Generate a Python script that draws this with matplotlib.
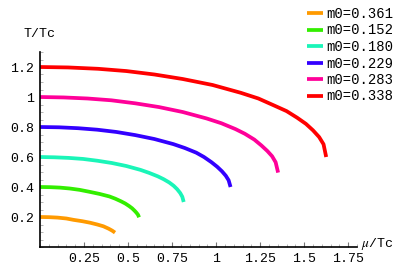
import matplotlib
matplotlib.use("Agg")
import matplotlib.pyplot as plt
from matplotlib.ticker import MultipleLocator, FixedLocator

plt.rcParams['mathtext.fontset'] = 'stix'

labels = ["m0=0.361", "m0=0.152", "m0=0.180", "m0=0.229", "m0=0.283", "m0=0.338"]
colors = ["#FF9A00", "#33EE00", "#1AF5B8", "#3300FF", "#FF0099", "#FF0000"]

mu_orange = [0, 0.05, 0.10, 0.15, 0.19, 0.24, 0.284, 0.325, 0.36, 0.39, 0.41, 0.426]
T_orange = [0.200, 0.199, 0.196, 0.190, 0.181, 0.172, 0.162, 0.150, 0.138, 0.122, 0.109, 0.096]

mu_green = [0, 0.056, 0.1125, 0.169, 0.225, 0.281, 0.3375, 0.394, 0.4275, 0.461,
            0.484, 0.506, 0.523, 0.537, 0.548, 0.557, 0.5625]
T_green = [0.400, 0.399, 0.396, 0.390, 0.381, 0.368, 0.354, 0.337, 0.322, 0.304,
           0.290, 0.273, 0.258, 0.242, 0.228, 0.214, 0.198]

mu_cyan = [0, 0.082, 0.163, 0.245, 0.326, 0.408, 0.49, 0.571, 0.62, 0.669,
           0.702, 0.734, 0.759, 0.779, 0.796, 0.808, 0.816]
T_cyan = [0.600, 0.598, 0.594, 0.587, 0.575, 0.560, 0.540, 0.514, 0.494, 0.471,
          0.452, 0.430, 0.408, 0.385, 0.360, 0.335, 0.300]

mu_blue = [0, 0.108, 0.216, 0.325, 0.433, 0.541, 0.649, 0.757, 0.822, 0.887,
           0.931, 0.974, 1.006, 1.033, 1.055, 1.071, 1.082]
T_blue = [0.800, 0.798, 0.792, 0.782, 0.767, 0.746, 0.720, 0.686, 0.660, 0.629,
          0.600, 0.565, 0.535, 0.505, 0.475, 0.445, 0.400]

mu_magenta = [0, 0.135, 0.27, 0.405, 0.54, 0.675, 0.81, 0.946, 1.03, 1.11,
              1.163, 1.217, 1.257, 1.291, 1.318, 1.338, 1.352]
T_magenta = [1.000, 0.997, 0.990, 0.978, 0.958, 0.933, 0.900, 0.857, 0.825, 0.786,
             0.755, 0.716, 0.677, 0.640, 0.605, 0.565, 0.496]

mu_red = [0, 0.16, 0.33, 0.49, 0.65, 0.81, 0.98, 1.14, 1.24, 1.33,
          1.40, 1.46, 1.51, 1.55, 1.585, 1.61, 1.625]
T_red = [1.200, 1.197, 1.188, 1.173, 1.150, 1.120, 1.080, 1.028, 0.990, 0.943,
         0.906, 0.862, 0.821, 0.778, 0.733, 0.685, 0.600]

series = [(mu_orange, T_orange), (mu_green, T_green), (mu_cyan, T_cyan),
          (mu_blue, T_blue), (mu_magenta, T_magenta), (mu_red, T_red)]

xticks = [0.25, 0.5, 0.75, 1, 1.25, 1.5, 1.75]
xticklabels = ["0.25", "0.5", "0.75", "1", "1.25", "1.5", "1.75"]
yticks = [0.2, 0.4, 0.6, 0.8, 1.0, 1.2]
yticklabels = ["0.2", "0.4", "0.6", "0.8", "1", "1.2"]

W, H = 415, 274
fig = plt.figure(figsize=(W / 100, H / 100), dpi=100)
ax = fig.add_axes([40 / W, (H - 247) / H, (357 - 40) / W, (247 - 52) / H])

handles = []
for (mu, T), c, lab in zip(series, colors, labels):
    h, = ax.plot(mu, T, color=c, lw=2.7, solid_capstyle='butt',
                 solid_joinstyle='round', clip_on=False, label=lab)
    handles.append(h)

ax.set_xlim(0, 1.8)
ax.set_ylim(0, 1.3)
for s in ['top', 'right']:
    ax.spines[s].set_visible(False)
for s in ['left', 'bottom']:
    ax.spines[s].set_linewidth(1.2)
    ax.spines[s].set_color('black')

mono = 'Liberation Mono'
ax.xaxis.set_major_locator(FixedLocator(xticks))
ax.set_xticklabels(xticklabels, family=mono, fontsize=9.5)
ax.yaxis.set_major_locator(FixedLocator(yticks))
ax.set_yticklabels(yticklabels, family=mono, fontsize=9.5)
ax.xaxis.set_minor_locator(MultipleLocator(0.05))
ax.yaxis.set_minor_locator(MultipleLocator(0.05))
ax.tick_params(which='major', direction='in', length=3.5, width=0.8, color='#777777', pad=4)
ax.tick_params(which='minor', direction='in', length=2, width=0.5, color='#999999')

fig.text(23 / W, 1 - 34 / H, "T/Tc", family=mono, fontsize=9.5, va='center', ha='left')
fig.text(361 / W, 1 - 244 / H, r"$\mu$/Tc", family=mono, fontsize=9.5, va='center', ha='left')

leg = fig.legend(handles=handles, labels=labels, loc='upper left',
                 bbox_to_anchor=(307 / W, 1 - 7 / H), frameon=False,
                 prop={'family': mono, 'size': 10}, handlelength=1.12,
                 handletextpad=0.3, labelspacing=0.18, borderpad=0, borderaxespad=0)

fig.savefig("out.png", dpi=100)
